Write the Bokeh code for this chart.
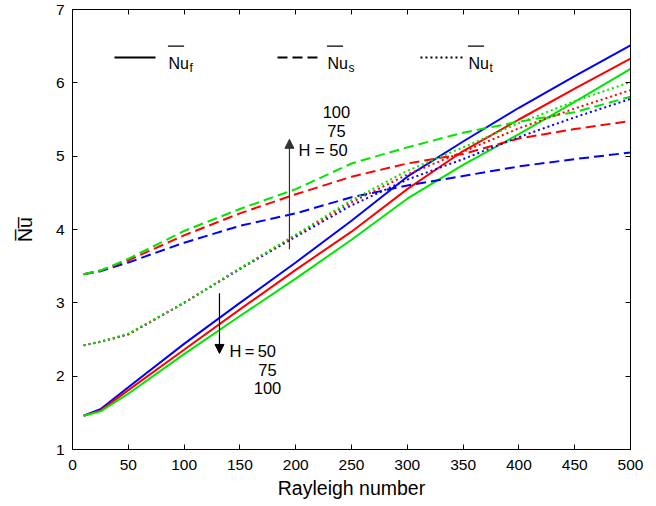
from bokeh.plotting import figure
from bokeh.models import LinearAxis, FixedTicker, Arrow, NormalHead, Label, Range1d
from bokeh.embed import file_html
from bokeh.resources import INLINE

# ---------------- data ----------------
ra = [10, 25, 50, 100, 150, 200, 250, 300, 350, 400, 450, 500]

nuf_h50 = [1.46, 1.55, 1.85, 2.44, 3.00, 3.55, 4.12, 4.72, 5.20, 5.66, 6.09, 6.51]
nuf_h75 = [1.46, 1.53, 1.81, 2.36, 2.91, 3.45, 3.97, 4.55, 5.07, 5.50, 5.92, 6.33]
nuf_h100 = [1.46, 1.52, 1.76, 2.30, 2.82, 3.33, 3.86, 4.42, 4.88, 5.30, 5.74, 6.19]

nus_h50 = [3.39, 3.43, 3.55, 3.82, 4.05, 4.22, 4.44, 4.60, 4.73, 4.86, 4.96, 5.05]
nus_h75 = [3.39, 3.44, 3.58, 3.92, 4.22, 4.48, 4.72, 4.90, 5.03, 5.24, 5.37, 5.48]
nus_h100 = [3.39, 3.44, 3.60, 3.98, 4.28, 4.55, 4.90, 5.12, 5.32, 5.47, 5.60, 5.81]

nut_h50 = [2.42, 2.47, 2.57, 3.00, 3.46, 3.90, 4.33, 4.68, 4.96, 5.26, 5.53, 5.78]
nut_h75 = [2.42, 2.47, 2.57, 3.00, 3.47, 3.92, 4.37, 4.75, 5.06, 5.38, 5.65, 5.90]
nut_h100 = [2.42, 2.47, 2.58, 3.00, 3.47, 3.93, 4.40, 4.80, 5.12, 5.45, 5.75, 6.01]

x_ticks = [0, 50, 100, 150, 200, 250, 300, 350, 400, 450, 500]
y_ticks = [1, 2, 3, 4, 5, 6, 7]

# ---------------- styles ----------------
FONT = "Liberation Sans"
BLUE, RED, GREEN = "#0000ff", "#ff0000", "#00e600"
NU_BAR = "N\u0305u\u0305"

p = figure(width=648, height=504, x_range=Range1d(0, 500), y_range=Range1d(1, 7),
           output_backend="svg", toolbar_location=None,
           min_border_left=72, min_border_right=18, min_border_top=9, min_border_bottom=55)
p.grid.visible = False
p.outline_line_color = "black"
p.outline_line_width = 1
p.background_fill_color = "white"
p.border_fill_color = "white"

for ax, ticks in ((p.xaxis[0], x_ticks), (p.yaxis[0], y_ticks)):
    ax.ticker = FixedTicker(ticks=ticks)
    ax.major_tick_in = 5
    ax.major_tick_out = 0
    ax.minor_tick_line_color = None
    ax.axis_line_color = "black"
    ax.major_tick_line_color = "black"
    ax.major_label_text_font = FONT
    ax.major_label_text_font_size = "15.5px"
    ax.major_label_text_color = "black"
    ax.axis_label_text_font = FONT
    ax.axis_label_text_font_size = "19.5px"
    ax.axis_label_text_font_style = "normal"
    ax.axis_label_text_color = "black"

p.xaxis.axis_label = "Rayleigh number"
p.xaxis.major_label_standoff = 10
p.xaxis.axis_label_standoff = 4
p.yaxis.axis_label = NU_BAR
p.yaxis.major_label_standoff = 8
p.yaxis.axis_label_standoff = 17

for loc, ticks in (("right", y_ticks), ("above", x_ticks)):
    a = LinearAxis(ticker=FixedTicker(ticks=ticks), major_tick_in=5, major_tick_out=0,
                   minor_tick_line_color=None, major_label_text_font_size="8px",
                   major_label_overrides={t: "" for t in ticks},
                   major_label_standoff=0, axis_line_color="black")
    p.add_layout(a, loc)

# ---------------- curves ----------------
series = [
    (nuf_h50, BLUE, "solid"), (nuf_h75, RED, "solid"), (nuf_h100, GREEN, "solid"),
    (nus_h50, BLUE, "10 5"), (nus_h75, RED, "10 5"), (nus_h100, GREEN, "10 5"),
    (nut_h50, BLUE, "2 3"), (nut_h75, RED, "2 3"), (nut_h100, GREEN, "2 3"),
]
for ys, col, dash in series:
    p.line(ra, ys, line_color=col, line_width=2, line_dash=dash)

# ---------------- legend (manual) ----------------
leg_y = 6.346          # sample line height
leg_text_y = 6.257     # text baseline
leg_bar_y = 6.50       # overline height
leg_bar_w = 14.5       # overline length (data units)
legend_items = [((37.6, 74.4), "solid", 86.0, "f"),
                ((183.7, 219.5), "10 5", 228.5, "s"),
                ((311.8, 352.2), "2 3", 354.8, "t")]
for (x0, x1), dash, tx, sub in legend_items:
    p.add_layout(Arrow(end=None, x_start=x0, y_start=leg_y, x_end=x1, y_end=leg_y,
                       line_color="black", line_width=2, line_dash=dash))
    p.add_layout(Label(x=tx, y=leg_text_y, text="Nu", text_font=FONT, text_font_size="16px",
                       text_baseline="alphabetic", text_align="left", text_color="black"))
    p.add_layout(Arrow(end=None, x_start=tx - 0.5, y_start=leg_bar_y, x_end=tx - 0.5 + leg_bar_w,
                       y_end=leg_bar_y, line_color="black", line_width=1.2))
    p.add_layout(Label(x=tx, y=leg_text_y, x_offset=21, y_offset=-4.5, text=sub, text_font=FONT,
                       text_font_size="12px", text_baseline="alphabetic", text_align="left",
                       text_color="black"))

# ---------------- annotations ----------------
p.add_layout(Arrow(end=NormalHead(size=9, fill_color="#333333", line_color="#333333"),
                   x_start=194.4, y_start=3.73, x_end=194.4, y_end=5.23,
                   line_color="#333333", line_width=1.2))
p.add_layout(Arrow(end=NormalHead(size=9, fill_color="black", line_color="black"),
                   x_start=131.7, y_start=3.13, x_end=131.7, y_end=2.31,
                   line_color="black", line_width=1.2))

ann = [
    (236.5, 5.60, "100", "center"), (236.5, 5.35, "75", "center"), (246.5, 5.09, "H = 50", "right"),
    (140.7, 2.35, "H\u2009=\u200950", "left"), (174.7, 2.09, "75", "center"), (174.7, 1.845, "100", "center"),
]
for x, y, t, al in ann:
    p.add_layout(Label(x=x, y=y, text=t, text_font=FONT, text_font_size="16.5px",
                       text_align=al, text_baseline="middle", text_color="black"))

open("out.html", "w").write(file_html(p, INLINE))
